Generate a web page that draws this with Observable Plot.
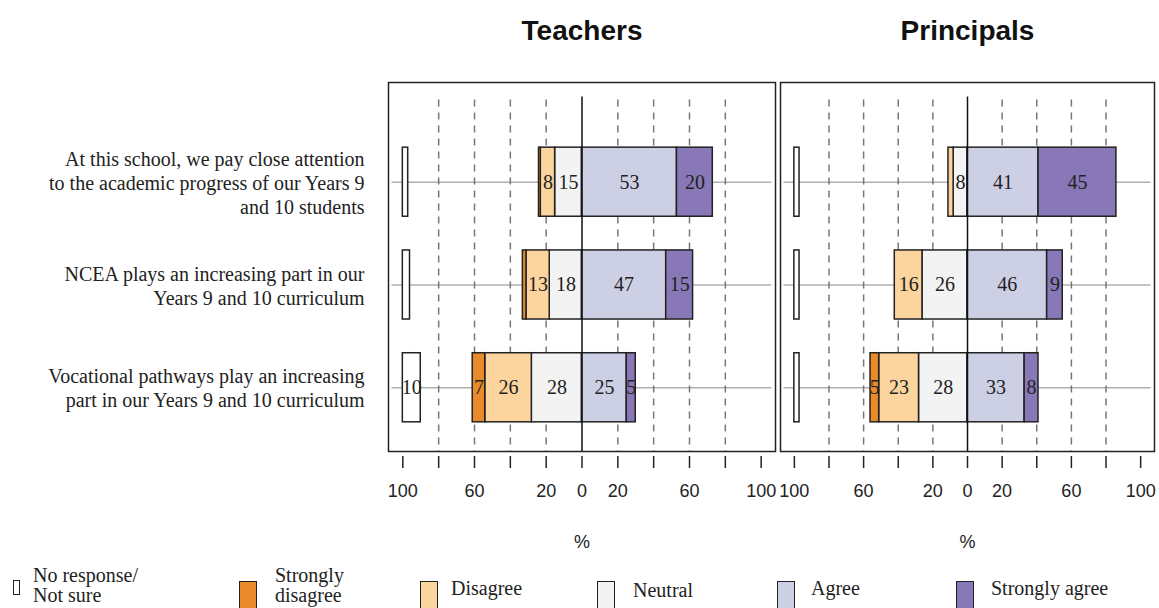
<!DOCTYPE html>
<html><head><meta charset="utf-8">
<script src="https://cdn.jsdelivr.net/npm/d3@7"></script>
<script src="https://cdn.jsdelivr.net/npm/@observablehq/plot@0.6"></script>
<style>
body{margin:0;background:#fff;}
#wrap{position:relative;width:1159px;height:608px;overflow:hidden;font-family:"Liberation Serif",serif;background:#fff;}
#wrap svg{position:absolute;top:0;overflow:visible;}
.leg{position:absolute;font-size:20px;line-height:20px;color:#222;white-space:pre;}
.box{position:absolute;border:1.5px solid #222;box-sizing:border-box;}
</style></head><body><div id="wrap"></div>
<script>
// ---- data ----
const questions = [
  "At this school, we pay close attention\nto the academic progress of our Years 9\nand 10 students",
  "NCEA plays an increasing part in our\nYears 9 and 10 curriculum",
  "Vocational pathways play an increasing\npart in our Years 9 and 10 curriculum"
];
const categories = ["No response/Not sure","Strongly disagree","Disagree","Neutral","Agree","Strongly agree"];
const legendLabels = ["No response/\nNot sure","Strongly\ndisagree","Disagree","Neutral","Agree","Strongly agree"];
const colors = ["#ffffff","#e98a2b","#fbd49e","#f3f3f3","#cdd0e5","#8878b7"];
const panelTitles = ["Teachers","Principals"];

const teachersNoResponse      = [3, 4, 10];
const teachersStronglyDisagree= [1, 2, 7];
const teachersDisagree        = [8, 13, 26];
const teachersNeutral         = [15, 18, 28];
const teachersAgree           = [53, 47, 25];
const teachersStronglyAgree   = [20, 15, 5];

const principalsNoResponse      = [3, 3, 3];
const principalsStronglyDisagree= [0, 0, 5];
const principalsDisagree        = [3, 16, 23];
const principalsNeutral         = [8, 26, 28];
const principalsAgree           = [41, 46, 33];
const principalsStronglyAgree   = [45, 9, 8];

const xTicks = [-100,-80,-60,-40,-20,0,20,40,60,80,100];
const xTickLabels = ["100","","60","","20","0","20","","60","","100"];
const gridLines = [-80,-60,-40,-20,20,40,60,80];
const axisTitle = "%";

// ---- build segments ----
function segments(p){
  const out = [];
  questions.forEach((q,i)=>{
    const row = i+1;
    out.push({row, cat:0, x1:-100, x2:-100+p.nr[i], v:p.nr[i]});
    let l = 0;
    [[3,p.n[i]],[2,p.d[i]],[1,p.sd[i]]].forEach(([c,v])=>{ if(v>0) out.push({row,cat:c,x1:l-v,x2:l,v}); l-=v; });
    let r = 0;
    [[4,p.a[i]],[5,p.sa[i]]].forEach(([c,v])=>{ if(v>0) out.push({row,cat:c,x1:r,x2:r+v,v}); r+=v; });
  });
  return out;
}
const teacherSegs = segments({nr:teachersNoResponse, sd:teachersStronglyDisagree, d:teachersDisagree, n:teachersNeutral, a:teachersAgree, sa:teachersStronglyAgree});
const principalSegs = segments({nr:principalsNoResponse, sd:principalsStronglyDisagree, d:principalsDisagree, n:principalsNeutral, a:principalsAgree, sa:principalsStronglyAgree});

function panel(title, segs, o){
  const half = 0.336;
  const marks = [
    Plot.ruleY([1,2,3], {x1:-106, x2:106, stroke:"#b0b0b0", strokeWidth:1.5}),
    Plot.ruleX(gridLines, {y1:0.2, y2:3.62, stroke:"#777", strokeWidth:1.5, strokeDasharray:"7,6"}),
    Plot.rect(segs, {x1:"x1", x2:"x2", y1:d=>d.row-half, y2:d=>d.row+half, fill:d=>colors[d.cat], stroke:"#222", strokeWidth:1.5}),
    Plot.ruleX([0], {y1:0.17, y2:3.62, stroke:"#111", strokeWidth:1.5}),
    Plot.text(segs.filter(d=>d.v>=5), {x:d=>(d.x1+d.x2)/2, y:"row", text:d=>String(d.v), fontFamily:"Liberation Serif", fontSize:20, fill:"#222"}),
    Plot.frame({stroke:"#222", strokeWidth:1.5}),
    Plot.axisX({ticks:xTicks, tickFormat:d=>xTickLabels[xTicks.indexOf(d)], tickSize:12, tickPadding:16, dy:5, fontSize:18, label:null, stroke:"#222", strokeWidth:1.5, fill:"#222"}),
    Plot.text([axisTitle], {x:0, frameAnchor:"bottom", lineAnchor:"middle", dy:91, fontSize:18, fill:"#222"}),
    Plot.text([title], {frameAnchor:"top", lineAnchor:"middle", dy:-51, fontSize:28, fontWeight:"bold", fill:"#111"})
  ];
  if (o.labels) {
    marks.push(Plot.text(questions, {y:(d,i)=>i+1, frameAnchor:"left", dx:-24, textAnchor:"end", fontFamily:"Liberation Serif", fontSize:20, lineHeight:1.2, fill:"#222"}));
  }
  const svg = Plot.plot({
    width:o.width, height:560,
    marginLeft:o.ml, marginRight:o.mr, marginTop:82, marginBottom:109,
    x:{domain:[-108,108]},
    y:{domain:[3.62,0.03], axis:null},
    style:{fontFamily:"Liberation Sans, Arial, sans-serif", fontSize:"18px", background:"transparent", overflow:"visible"},
    marks
  });
  svg.style.left = o.left + "px";
  return svg;
}

const wrap = document.getElementById("wrap");
wrap.appendChild(panel(panelTitles[0], teacherSegs, {width:778, ml:388, mr:3, left:0, labels:true}));
wrap.appendChild(panel(panelTitles[1], principalSegs, {width:381, ml:2, mr:5, left:778, labels:false}));

// ---- legend ----
const legendPos = [
  {bx:13, bw:7, bh:15, by:580, tx:33, ty:565},
  {bx:239, bw:18, bh:30, by:581, tx:275, ty:565},
  {bx:420, bw:18, bh:30, by:581, tx:451, ty:578},
  {bx:597, bw:18, bh:30, by:581, tx:633, ty:580},
  {bx:777, bw:18, bh:30, by:581, tx:811, ty:578},
  {bx:956, bw:18, bh:30, by:581, tx:991, ty:578}
];
categories.forEach((c,i)=>{
  const p = legendPos[i];
  const b = document.createElement("div");
  b.className = "box";
  Object.assign(b.style, {left:p.bx+"px", top:p.by+"px", width:p.bw+"px", height:p.bh+"px", background:colors[i]});
  wrap.appendChild(b);
  const t = document.createElement("div");
  t.className = "leg";
  t.textContent = legendLabels[i];
  Object.assign(t.style, {left:p.tx+"px", top:p.ty+"px"});
  wrap.appendChild(t);
});
</script>
</body></html>
